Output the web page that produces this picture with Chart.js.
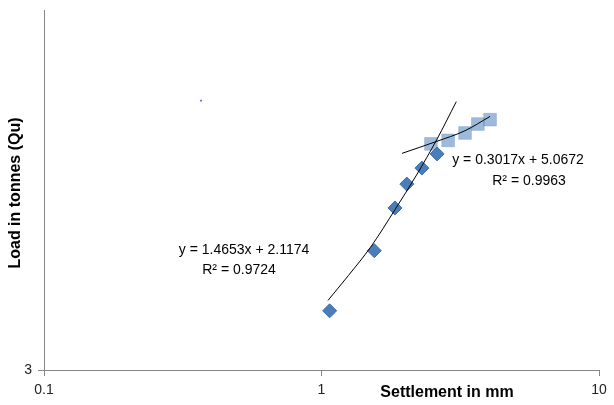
<!DOCTYPE html>
<html>
<head>
<meta charset="utf-8">
<script src="https://cdn.jsdelivr.net/npm/chart.js@4.4.0/dist/chart.umd.min.js"></script>
<style>
  html, body { margin: 0; padding: 0; background: #fff; }
  #wrap { width: 614px; height: 405px; }
</style>
</head>
<body>
<div id="wrap"><canvas id="chart"></canvas></div>
<script>
// settlement (mm) vs load (tonnes)
const settlementA = [1.07, 1.55, 1.84, 2.03, 2.30, 2.61];
const loadA = [3.57, 4.26, 4.83, 5.18, 5.43, 5.66];
const settlementB = [2.48, 2.86, 3.29, 3.66, 4.05];
const loadB = [5.83, 5.89, 6.02, 6.18, 6.26];

// trendlines
const trendAx = [1.055, 1.25, 1.5, 1.85, 2.2, 2.6, 3.06];
const trendAy = [3.68, 3.96, 4.30, 4.82, 5.32, 5.90, 6.60];
const trendBx = [1.95, 2.59, 3.29, 4.05];
const trendBy = [5.67, 5.87, 6.06, 6.32];

// stray dot
const strayX = [0.368];
const strayY = [6.62];

const xTicks = [0.1, 1, 10];
const yTicks = [3];
const eqA = ['y = 1.4653x + 2.1174', 'R\u00b2 = 0.9724'];
const eqB = ['y = 0.3017x + 5.0672', 'R\u00b2 = 0.9963'];

const pts = (xs, ys) => xs.map((x, i) => ({ x, y: ys[i] }));

const axisGray = '#868686';
const font = '"Liberation Sans", Arial, sans-serif';

const textPlugin = {
  id: 'textPlugin',
  afterDraw(chart) {
    const ctx = chart.ctx;
    ctx.save();
    ctx.fillStyle = '#000';
    ctx.textAlign = 'center';
    ctx.textBaseline = 'middle';
    ctx.font = '14px ' + font;
    ctx.fillText(eqA[0], 244, 250);
    ctx.fillText(eqA[1], 239, 270);
    ctx.fillText(eqB[0], 518, 160);
    ctx.fillText(eqB[1], 529, 181);

    ctx.font = 'bold 16px ' + font;
    ctx.fillText('Settlement in mm', 447, 393);
    ctx.translate(16, 193);
    ctx.rotate(-Math.PI / 2);
    ctx.fillText('Load in tonnes (Qu)', 0, 0);
    ctx.restore();
  }
};

new Chart(document.getElementById('chart'), {
  type: 'scatter',
  data: {
    datasets: [
      {
        data: pts(trendAx, trendAy),
        showLine: true,
        borderColor: '#000',
        borderWidth: 1,
        pointRadius: 0,
        cubicInterpolationMode: 'monotone',
        order: 0,
      },
      {
        data: pts(trendBx, trendBy),
        showLine: true,
        borderColor: '#000',
        borderWidth: 1,
        pointRadius: 0,
        cubicInterpolationMode: 'monotone',
        order: 0,
      },
      {
        data: pts(settlementA, loadA),
        pointStyle: 'rectRot',
        pointRadius: 7,
        backgroundColor: '#4a7ebb',
        borderColor: '#3d6da6',
        borderWidth: 1,
        order: 1,
      },
      {
        data: pts(settlementB, loadB),
        pointStyle: 'rect',
        pointRadius: 9,
        backgroundColor: 'rgba(79,129,189,0.55)',
        borderColor: 'rgba(79,129,189,0.3)',
        borderWidth: 1,
        order: 2,
      },
      {
        data: pts(strayX, strayY),
        pointStyle: 'rect',
        pointRadius: 1.2,
        backgroundColor: '#5a4cff',
        borderWidth: 0,
        order: 1,
      },
    ],
  },
  options: {
    responsive: true,
    maintainAspectRatio: false,
    animation: false,
    layout: { padding: { top: 8, right: 15, left: 0, bottom: 0 } },
    plugins: { legend: { display: false }, tooltip: { enabled: false } },
    scales: {
      x: {
        type: 'logarithmic',
        min: 0.1,
        max: 10,
        afterBuildTicks: (s) => { s.ticks = xTicks.map(v => ({ value: v })); },
        afterFit: (s) => { s.height = 35; s.paddingLeft = 0; s.paddingRight = 0; },
        ticks: {
          callback: (v) => String(v),
          color: '#222',
          font: { family: font, size: 14 },
          padding: 6,
          maxRotation: 0,
        },
        grid: { drawOnChartArea: false, drawTicks: true, tickLength: 6, color: axisGray },
        border: { color: axisGray, width: 1 },
      },
      y: {
        type: 'logarithmic',
        min: 3,
        max: 8.64,
        afterBuildTicks: (s) => { s.ticks = yTicks.map(v => ({ value: v })); },
        afterFit: (s) => { s.width = 44; s.paddingTop = 0; s.paddingBottom = 0; },
        ticks: {
          callback: (v) => String(v),
          color: '#222',
          font: { family: font, size: 14 },
          padding: 6,
        },
        grid: { drawOnChartArea: false, drawTicks: true, tickLength: 6, color: axisGray },
        border: { color: axisGray, width: 1 },
      },
    },
  },
  plugins: [textPlugin],
});
</script>
</body>
</html>
